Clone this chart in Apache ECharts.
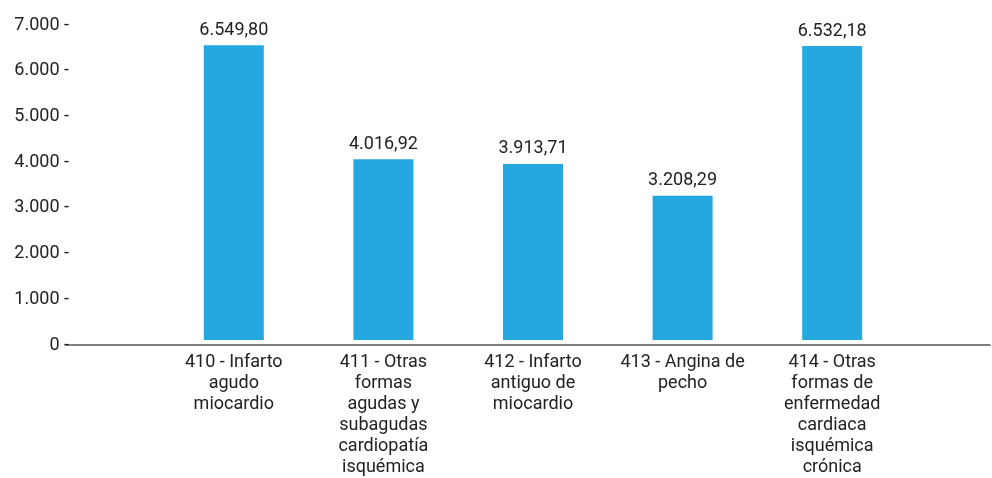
<!DOCTYPE html>
<html><head><meta charset="utf-8">
<script src="https://cdn.jsdelivr.net/npm/echarts@6/dist/echarts.min.js"></script>
<style>html,body{margin:0;padding:0;background:#fff}#c{width:992px;height:478px}</style>
</head><body><div id="c"></div>
<script>
const categories = [
  "410 - Infarto\nagudo\nmiocardio",
  "411 - Otras\nformas\nagudas y\nsubagudas\ncardiopatía\nisquémica",
  "412 - Infarto\nantiguo de\nmiocardio",
  "413 - Angina de\npecho",
  "414 - Otras\nformas de\nenfermedad\ncardiaca\nisquémica\ncrónica"
];
const values = [6549.80, 4016.92, 3913.71, 3208.29, 6532.18];
const yTicks = [0, 1000, 2000, 3000, 4000, 5000, 6000, 7000];

function fmt(v, dec) {
  const s = v.toFixed(dec);
  let [i, d] = s.split('.');
  i = i.replace(/\B(?=(\d{3})+(?!\d))/g, '.');
  return d ? i + ',' + d : i;
}
const FONT = 'Roboto';
const TXT = '#222';
const chart = echarts.init(document.getElementById('c'));
chart.setOption({
  animation: false,
  grid: [
    {left: 66, right: 2, top: 25, bottom: 133},
    {left: 159, right: 85, top: 25, bottom: 133}
  ],
  xAxis: [
    {type: 'category', gridIndex: 0, data: [''], axisLine: {lineStyle: {color: '#555', width: 1.5}}, axisTick: {show: false}, axisLabel: {show: false}},
    {type: 'category', gridIndex: 1, data: categories, axisLine: {show: false}, axisTick: {show: false},
     axisLabel: {interval: 0, color: TXT, fontFamily: FONT, fontSize: 18, lineHeight: 21, margin: 12}}
  ],
  yAxis: [
    {type: 'value', gridIndex: 0, min: yTicks[0], max: yTicks[yTicks.length - 1], interval: 1000,
     axisLine: {show: false}, axisTick: {show: false}, splitLine: {show: false},
     axisLabel: {color: TXT, fontFamily: FONT, fontSize: 18, margin: -3, padding: [3, 0, 0, 0], formatter: v => fmt(v, 0) + ' -'}},
    {type: 'value', gridIndex: 1, min: yTicks[0], max: yTicks[yTicks.length - 1], interval: 1000, show: false}
  ],
  series: [{
    type: 'bar', xAxisIndex: 1, yAxisIndex: 1, data: values, barWidth: 60,
    itemStyle: {color: '#25a8e0'},
    label: {show: true, position: 'top', distance: 6, color: TXT, fontFamily: FONT, fontSize: 18, formatter: p => fmt(p.value, 2)}
  }]
});
</script></body></html>
